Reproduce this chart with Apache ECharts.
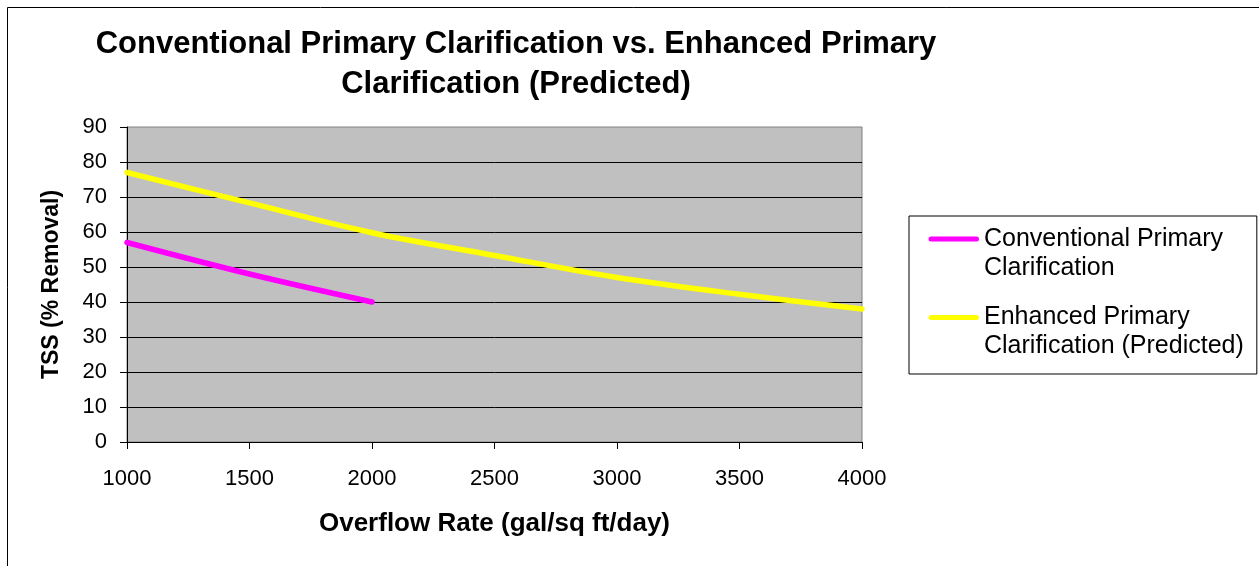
<!DOCTYPE html>
<html>
<head>
<meta charset="utf-8">
<script src="https://cdn.jsdelivr.net/npm/echarts@6/dist/echarts.min.js"></script>
<style>
html,body{margin:0;padding:0;background:#fff;}
#chart{width:1259px;height:566px;}
</style>
</head>
<body>
<div id="chart"></div>
<script>
const titleText = 'Conventional Primary Clarification vs. Enhanced Primary\nClarification (Predicted)';
const xAxisName = 'Overflow Rate (gal/sq ft/day)';
const yAxisName = 'TSS (% Removal)';
const seriesNames = ['Conventional Primary\nClarification', 'Enhanced Primary\nClarification (Predicted)'];
const conventionalX = [1000, 1500, 2000];
const conventionalY = [57, 48, 40];
const enhancedX = [1000, 1500, 2000, 2500, 3000, 3500, 4000];
const enhancedY = [77, 68.3, 59.8, 53.3, 47, 42.2, 38];

const font = '"Liberation Sans", Arial, sans-serif';
// legend icon: a rounded bar aligned with the first text line (invisible anchor points set the box)
const legendIcon = 'path://M0,0M0,58M3,12L48,12A2.5,2.5,0,0,1,48,17L3,17A2.5,2.5,0,0,1,3,12Z';

const chart = echarts.init(document.getElementById('chart'), null, {renderer: 'canvas'});
chart.setOption({
  animation: false,
  backgroundColor: '#ffffff',
  textStyle: {fontFamily: font},
  title: {
    text: titleText,
    left: 516,
    top: 24,
    padding: 0,
    textAlign: 'center',
    textStyle: {fontFamily: font, fontSize: 31, fontWeight: 'bold', color: '#000', lineHeight: 40}
  },
  graphic: [{
    type: 'rect',
    shape: {x: 7.5, y: 7.5, width: 1260, height: 600},
    style: {fill: 'none', stroke: '#000', lineWidth: 1},
    silent: true, z: -1
  }],
  grid: {
    left: 127, top: 127, right: 397, bottom: 124,
    show: true, backgroundColor: '#C0C0C0', borderColor: '#808080', borderWidth: 1
  },
  legend: {
    orient: 'vertical',
    left: 909, top: 216,
    padding: [8.5, 13, 13, 19],
    itemWidth: 51, itemHeight: 58, itemGap: 20.5,
    symbolKeepAspect: false,
    borderColor: '#000', borderWidth: 1, backgroundColor: '#fff',
    textStyle: {fontFamily: font, fontSize: 25, color: '#000', lineHeight: 29},
    data: [
      {name: seriesNames[0], icon: legendIcon, itemStyle: {color: '#FF00FF', borderWidth: 0}},
      {name: seriesNames[1], icon: legendIcon, itemStyle: {color: '#FFFF00', borderWidth: 0}}
    ]
  },
  xAxis: {
    type: 'value', min: 1000, max: 4000, interval: 500,
    name: xAxisName, nameLocation: 'middle', nameGap: 69,
    nameTextStyle: {fontFamily: font, fontSize: 26, fontWeight: 'bold', color: '#000'},
    axisLine: {show: true, onZero: false, lineStyle: {color: '#000', width: 1}},
    axisTick: {show: true, length: 7, lineStyle: {color: '#000'}},
    axisLabel: {fontFamily: font, fontSize: 22, color: '#000', margin: 26, formatter: v => String(v)},
    splitLine: {show: false}
  },
  yAxis: {
    type: 'value', min: 0, max: 90, interval: 10,
    name: yAxisName, nameLocation: 'middle', nameGap: 64,
    nameTextStyle: {fontFamily: font, fontSize: 23, fontWeight: 'bold', color: '#000'},
    axisLine: {show: true, lineStyle: {color: '#000', width: 1}},
    axisTick: {show: true, length: 7, lineStyle: {color: '#000'}},
    axisLabel: {fontFamily: font, fontSize: 22, color: '#000', margin: 20, formatter: v => String(v)},
    splitLine: {show: true, showMaxLine: false, lineStyle: {color: '#000', width: 1}}
  },
  series: [
    {
      name: seriesNames[0], type: 'line', symbol: 'none', smooth: 0.35,
      lineStyle: {color: '#FF00FF', width: 5.5, cap: 'round'},
      itemStyle: {color: '#FF00FF'},
      data: conventionalX.map((x, i) => [x, conventionalY[i]])
    },
    {
      name: seriesNames[1], type: 'line', symbol: 'none', smooth: 0.35,
      lineStyle: {color: '#FFFF00', width: 5.5, cap: 'round'},
      itemStyle: {color: '#FFFF00'},
      data: enhancedX.map((x, i) => [x, enhancedY[i]])
    }
  ]
});
</script>
</body>
</html>
